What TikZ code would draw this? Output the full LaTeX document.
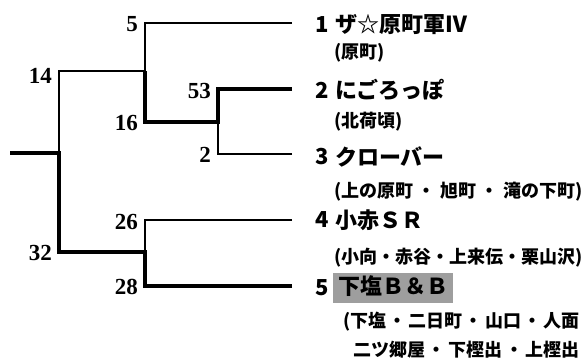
\documentclass[tikz,border=0pt]{standalone}
\usepackage{fontspec}
\newfontfamily\jp{Noto Sans CJK JP}
\newfontfamily\scorefont{Liberation Serif}
\newcommand\dt[1][0em]{\hspace{#1}・\hspace{#1}}
\usetikzlibrary{positioning}

\begin{document}
\begin{tikzpicture}[x=1pt,y=-1pt,
  lost/.style={line width=1.3pt},
  won/.style={line width=4pt},
  score/.style={font=\scorefont\bfseries\fontsize{23}{23}\selectfont, anchor=east, inner sep=0pt},
  seed/.style={font=\jp\bfseries\fontsize{22}{26}\selectfont, anchor=west, inner sep=0pt},
  team/.style={font=\jp\bfseries\fontsize{22}{26}\selectfont, anchor=west, inner sep=0pt},
  area/.style={font=\jp\bfseries\fontsize{18}{21}\selectfont, anchor=west, inner sep=0pt}]

\useasboundingbox (0,0) rectangle (586,360);

% team lines
\foreach \y [count=\i] in {23,89,154,220,286}
  \coordinate (t\i) at (292,\y);

\coordinate (a) at (145,71);
\coordinate (b) at (218,122);
\coordinate (c) at (145,252);
\coordinate (f) at (59,153);
\coordinate (r) at (10,153);

\draw[lost] (t1) -| (a);
\draw[lost] (t3) -| (b);
\draw[lost] (t4) -| (c);
\draw[lost] (a) -| (f);

\draw[won] (t2) -| (b) -| (a);
\draw[won] (t5) -| (c) -| (f) -- (r);

% scores
\node[score] (s1) at (138,24) {5};
\node[score] (s2) at (211,91) {53};
\node[score] (s3) at (211,155) {2};
\node[score] (sb) at (138,123) {16};
\node[score] (sa) at (52,76) {14};
\node[score] (s4) at (138,222) {26};
\node[score] (s5) at (138,287) {28};
\node[score] (sc) at (52,253) {32};

% teams
\foreach \y/\name [count=\i] in {25/ザ☆原町軍Ⅳ, 90/にごろっぽ, 157/クローバー, 220/小赤ＳＲ}
{
  \node[seed] (n\i) at (315,\y) {\i};
  \node[team] (name\i) at (335,\y) {\name};
}
\node[seed] (n5) at (315,288) {5};
\node[team, fill=black!38, inner xsep=5pt, text height=17pt, text depth=5pt, inner ysep=4pt] (name5) at (333,288) {下塩Ｂ＆Ｂ};

\node[area] (area1) at (334,53) {(原町)};
\node[area] (area2) at (334,122) {(北荷頃)};
\node[area] (area3) at (334,192) {(上の原町\dt[.25em]旭町\dt[.25em]滝の下町)};
\node[area] (area4) at (334,258) {(小向\dt 赤谷\dt 上来伝\dt 栗山沢)};
\node[area] (area5) at (343,322) {(下塩\dt[.12em]二日町\dt[.12em]山口\dt[.12em]人面};
\node[area] (area6) at (353,350) {二ツ郷屋\dt[.15em]下樫出\dt[.15em]上樫出};
\end{tikzpicture}
\end{document}
